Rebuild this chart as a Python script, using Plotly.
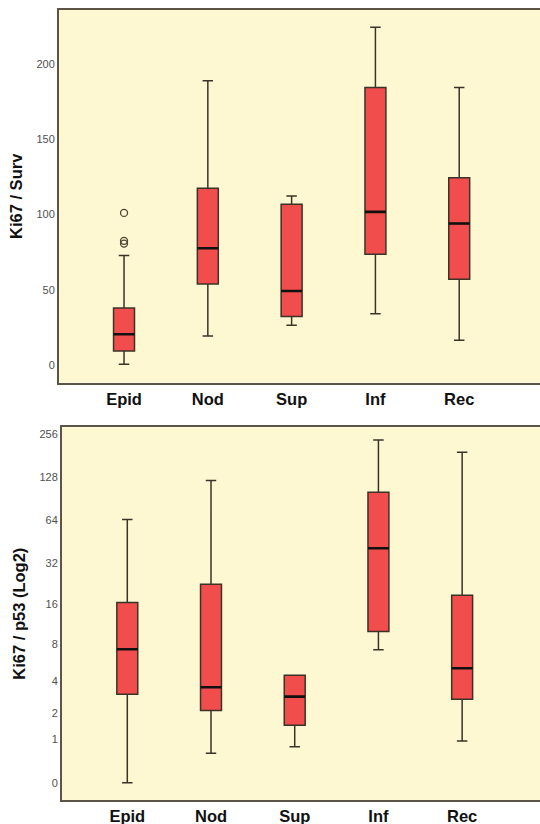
import numpy as np
import plotly.graph_objects as go

categories = ["Epid", "Nod", "Sup", "Inf", "Rec"]

# Top panel: Ki67 / Surv (linear)
surv_lower = [0.4, 19.3, 26.4, 34.1, 16.4]
surv_q1 = [9.3, 53.9, 32.2, 73.6, 57.0]
surv_median = [20.4, 77.6, 49.2, 101.8, 94.0]
surv_q3 = [37.9, 117.5, 106.9, 184.5, 124.4]
surv_upper = [72.7, 188.9, 112.4, 224.6, 184.5]
surv_outlier_cat = ["Epid", "Epid", "Epid"]
surv_outlier_val = [101.1, 82.5, 80.7]
surv_ticks = [0, 50, 100, 150, 200]

# Bottom panel: Ki67 / p53, shown on a log2(x+1) scale
p53_lower = [0.0, 0.6, 0.77, 7.3, 0.94]
p53_q1 = [3.08, 2.15, 1.49, 10.1, 2.77]
p53_median = [7.35, 3.56, 2.93, 40.7, 5.17]
p53_q3 = [16.6, 22.5, 4.52, 100.6, 18.7]
p53_upper = [64.8, 121.4, 4.52, 232.6, 191.0]
p53_ticks = [0, 1, 2, 4, 8, 16, 32, 64, 128, 256]


def tr(v):
    return list(np.log2(np.asarray(v, dtype=float) + 1))


BG = "#FDF8D2"
BOX = "#F24D4D"
EDGE = "#3a3328"
AXIS = "#5c5445"
TICKFONT = dict(family="Arial, Liberation Sans, sans-serif", size=11, color="#505050")
CATFONT = dict(family="Arial, Liberation Sans, sans-serif", size=16.5, color="#111111")
TITLEFONT = dict(family="Arial, Liberation Sans, sans-serif", size=16.5, color="#111111")


def add_panel(fig, q1, med, q3, lo, hi, xa, ya):
    fig.add_trace(go.Box(
        x=categories, q1=q1, median=med, q3=q3, lowerfence=lo, upperfence=hi,
        fillcolor=BOX, line=dict(color=EDGE, width=1.5), width=0.25, whiskerwidth=0.5,
        boxpoints=False, xaxis=xa, yaxis=ya, showlegend=False, hoverinfo="skip",
    ))
    # thicker median bar, drawn as a degenerate box at the median
    fig.add_trace(go.Box(
        x=categories, q1=med, median=med, q3=med, lowerfence=med, upperfence=med,
        fillcolor="rgba(0,0,0,0)", line=dict(color="#111111", width=2.6), width=0.25,
        whiskerwidth=0, boxpoints=False, xaxis=xa, yaxis=ya, showlegend=False,
        hoverinfo="skip",
    ))


fig = go.Figure()
add_panel(fig, surv_q1, surv_median, surv_q3, surv_lower, surv_upper, "x", "y")
fig.add_trace(go.Scatter(
    x=surv_outlier_cat, y=surv_outlier_val, mode="markers",
    marker=dict(symbol="circle-open", size=7, color="#4a4430", line=dict(width=1.3)),
    xaxis="x", yaxis="y", showlegend=False, hoverinfo="skip",
))
add_panel(fig, tr(p53_q1), tr(p53_median), tr(p53_q3), tr(p53_lower), tr(p53_upper),
          "x2", "y2")

W, H = 540, 824
ml, mr, mt, mb = 59, 0, 10, 24
ph = H - mt - mb

top_y0 = (H - mb - 382.7) / ph
bot_y1 = (H - mb - 427.3) / ph

common_x = dict(
    type="category", showline=True, linecolor=AXIS, linewidth=2, mirror=True,
    showgrid=False, ticks="", tickfont=CATFONT, zeroline=False, automargin=False,
    categoryorder="array", categoryarray=categories,
    tickprefix="<b>", ticksuffix="</b>",
)
common_y = dict(
    showline=True, linecolor=AXIS, linewidth=2, mirror=False,
    showgrid=False, ticks="", tickfont=TICKFONT, zeroline=False, automargin=False,
)

fig.update_layout(
    width=W, height=H,
    margin=dict(l=ml, r=mr, t=mt, b=mb, autoexpand=False),
    paper_bgcolor="white",
    plot_bgcolor=BG,
    boxmode="overlay",
    xaxis=dict(domain=[0, 1], anchor="y", range=[-0.776, 4.964], **common_x),
    yaxis=dict(
        domain=[top_y0, 1], anchor="x", range=[-11.8, 236],
        tickvals=surv_ticks, ticktext=[str(t) for t in surv_ticks],
        title=dict(text="<b>Ki67 / Surv</b>", font=TITLEFONT, standoff=10),
        **common_y,
    ),
    xaxis2=dict(domain=[3 / (W - ml), 1], anchor="y2", range=[-0.78, 4.93], **common_x),
    yaxis2=dict(
        domain=[0, bot_y1], anchor="x2", range=[-0.398, 8.159],
        tickvals=tr(p53_ticks), ticktext=[str(t) for t in p53_ticks],
        title=dict(text="<b>Ki67 / p53 (Log2)</b>", font=TITLEFONT, standoff=10),
        **common_y,
    ),
)

fig.write_html(
    "out.html",
    config={"displayModeBar": False},
    post_script="document.body.style.margin='0px';document.body.style.overflow='hidden';",
)
